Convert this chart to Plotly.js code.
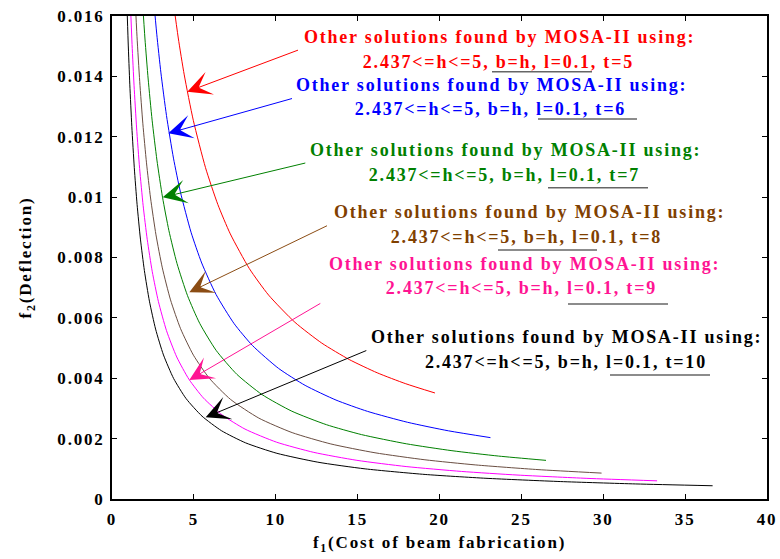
<!DOCTYPE html>
<html>
<head>
<meta charset="utf-8">
<script src="https://cdn.plot.ly/plotly-3.0.1.min.js"></script>
<style>
  html, body { margin: 0; padding: 0; background: #fff; }
  #chart { width: 780px; height: 559px; }
  #chart svg text { letter-spacing: 1.8px; }
</style>
</head>
<body>
<div id="chart"></div>
<script>
// ---- data ----
const seriesNames = ["t=5", "t=6", "t=7", "t=8", "t=9", "t=10"];

const f1_t5 = [3.719,4.047,4.412,4.965,5.710,6.463,7.225,8.385,9.565,11.170,12.809,14.484,16.194,17.940,19.721];
const f2_t5 = [0.016567,0.015271,0.014049,0.012544,0.010976,0.009756,0.008781,0.007635,0.006754,0.005854,0.005165,0.004621,0.004181,0.003818,0.003512];

const f1_t6 = [2.524,2.734,2.988,3.327,3.753,4.181,4.827,5.478,6.354,7.461,8.582,10.175,11.795,13.679,15.599,18.048,20.553,23.112];
const f2_t6 = [0.016661,0.015398,0.014115,0.012704,0.011292,0.010163,0.008837,0.007818,0.006775,0.005807,0.005082,0.004325,0.003764,0.003278,0.002904,0.002541,0.002258,0.002033];

const f1_t7 = [1.845,2.014,2.208,2.450,2.743,3.084,3.476,3.968,4.611,5.357,6.360,7.626,9.163,10.981,13.093,15.240,17.973,20.761,23.605,26.504];
const f2_t7 = [0.016623,0.015238,0.013913,0.012549,0.011228,0.010000,0.008889,0.007805,0.006737,0.005818,0.004923,0.004129,0.003459,0.002909,0.002462,0.002133,0.001829,0.001600,0.001422,0.001280];

const f1_t8 = [1.407,1.528,1.693,1.885,2.106,2.354,2.686,3.074,3.574,4.188,4.974,5.933,7.242,8.966,11.002,13.363,16.061,19.111,22.217,26.017,29.896];
const f2_t8 = [0.016618,0.015313,0.013831,0.012428,0.011136,0.009971,0.008750,0.007656,0.006596,0.005641,0.004764,0.004007,0.003298,0.002680,0.002199,0.001824,0.001531,0.001299,0.001128,0.000974,0.000858];

const f1_t9 = [1.109,1.225,1.348,1.502,1.687,1.903,2.150,2.460,2.832,3.329,3.953,4.704,5.584,6.722,8.123,10.051,12.325,14.957,17.961,21.350,24.795,29.001,33.288];
const f2_t9 = [0.016637,0.015057,0.013688,0.012291,0.010950,0.009714,0.008604,0.007528,0.006546,0.005576,0.004705,0.003962,0.003346,0.002788,0.002316,0.001882,0.001544,0.001281,0.001075,0.000913,0.000792,0.000684,0.000602];

const f1_t10 = [0.897,0.986,1.088,1.211,1.361,1.532,1.737,1.977,2.285,2.662,3.144,3.764,4.525,5.498,6.684,8.158,10.068,12.568,15.458,19.121,22.838,27.373,31.986,36.679];
const f2_t10 = [0.016630,0.015139,0.013720,0.012333,0.010976,0.009756,0.008609,0.007570,0.006553,0.005629,0.004772,0.003991,0.003326,0.002744,0.002263,0.001860,0.001514,0.001220,0.000998,0.000813,0.000686,0.000578,0.000499,0.000439];

const xTickVals = [0, 5, 10, 15, 20, 25, 30, 35, 40];
const yTickVals = [0, 0.002, 0.004, 0.006, 0.008, 0.01, 0.012, 0.014, 0.016];
const yTickText = ["0", "0.002", "0.004", "0.006", "0.008", "0.01", "0.012", "0.014", "0.016"];

const noteLine1 = "Other solutions found by MOSA-II using:";
const noteLine2 = ["2.437<=h<=5, b=h, l=0.1, t=5", "2.437<=h<=5, b=h, l=0.1, t=6", "2.437<=h<=5, b=h, l=0.1, t=7",
                   "2.437<=h<=5, b=h, l=0.1, t=8", "2.437<=h<=5, b=h, l=0.1, t=9", "2.437<=h<=5, b=h, l=0.1, t=10"];

// ---- styling / layout ----
const FONT = '"Liberation Serif", "Times New Roman", serif';
const curveColors = ["#ff0000", "#0000ff", "#008000", "#6a4e42", "#ff00ff", "#000000"];
const textColors  = ["#ff0000", "#0000ff", "#008000", "#804000", "#ff1493", "#000000"];
const arrowColors = ["#ff0000", "#0000ff", "#008000", "#8b4c14", "#ff1493", "#000000"];

const xs = [f1_t5, f1_t6, f1_t7, f1_t8, f1_t9, f1_t10];
const ys = [f2_t5, f2_t6, f2_t7, f2_t8, f2_t9, f2_t10];

const traces = xs.map((x, i) => ({
  x: x, y: ys[i], type: "scatter", mode: "lines", name: seriesNames[i],
  line: { color: curveColors[i], width: 1, shape: "spline", smoothing: 0.6 },
  hoverinfo: "skip"
}));

// plot-area geometry (pixels) used to place annotations
const L = 112, R = 767, T = 16, B = 499;
const px2x = p => (p - L) / (R - L) * 40;
const py2y = p => (B - p) / (B - T) * 0.016;

// text positions [line1 cx, line1 cy, line2 cx, line2 cy]
const textPos = [
  [499, 37, 498, 62],
  [491, 85, 490, 108.5],
  [505, 150, 504, 175],
  [529.5, 212, 526.5, 237],
  [524.5, 264, 521.5, 288],
  [566.5, 337, 566, 362]
];
// arrows [tipX, tipY, tailX, tailY]
const arrowPos = [
  [187.3, 91.7, 301, 49],
  [168.3, 133.3, 295, 97.7],
  [162.7, 197.3, 308.3, 162.3],
  [189.3, 292.3, 330, 224.3],
  [189.3, 380, 323.3, 301.7],
  [205.7, 417.3, 369.3, 349.3]
];
// underline segments [x0, x1, y]
const underPos = [
  [492, 592, 71.7],
  [538, 637, 119],
  [548, 648, 187.7],
  [498, 597, 250],
  [568, 668, 304],
  [610, 710, 375]
];

const annotations = [];
textPos.forEach((p, i) => {
  const f = { family: FONT, size: 18, color: textColors[i], weight: "bold" };
  annotations.push({ x: px2x(p[0]), y: py2y(p[1]), xref: "x", yref: "y", text: noteLine1,
    showarrow: false, xanchor: "center", yanchor: "middle", font: f });
  annotations.push({ x: px2x(p[2]), y: py2y(p[3]), xref: "x", yref: "y", text: noteLine2[i],
    showarrow: false, xanchor: "center", yanchor: "middle", font: f });
});
arrowPos.forEach((a, i) => {
  annotations.push({ x: px2x(a[0]), y: py2y(a[1]), xref: "x", yref: "y",
    ax: px2x(a[2]), ay: py2y(a[3]), axref: "x", ayref: "y", text: " ",
    showarrow: true, arrowhead: 3, arrowsize: 4, arrowwidth: 1, arrowcolor: arrowColors[i], standoff: 0,
    startstandoff: 0 });
});

const shapes = underPos.map(u => ({
  type: "line", xref: "x", yref: "y", x0: px2x(u[0]), x1: px2x(u[1]), y0: py2y(u[2]), y1: py2y(u[2]),
  line: { color: "#666666", width: 1.5 }
}));

const axisFont = { family: FONT, size: 17, color: "#000", weight: "bold" };
const layout = {
  width: 780, height: 559,
  margin: { l: L, r: 780 - R, t: T, b: 559 - B, pad: 0 },
  paper_bgcolor: "#fff", plot_bgcolor: "#fff",
  showlegend: false,
  font: { family: FONT },
  xaxis: {
    range: [0, 40], tickvals: xTickVals, ticks: "inside", ticklen: 5, tickwidth: 1, tickcolor: "#000",
    showline: true, linecolor: "#000", linewidth: 2, mirror: "ticks", showgrid: false, zeroline: false,
    tickfont: axisFont, ticklabelstandoff: 4,
    title: { text: "f<sub>1</sub>(Cost of beam fabrication)", font: axisFont, standoff: 8 }
  },
  yaxis: {
    range: [0, 0.016], tickvals: yTickVals, ticktext: yTickText, ticks: "inside", ticklen: 5, tickwidth: 1, tickcolor: "#000",
    showline: true, linecolor: "#000", linewidth: 2, mirror: "ticks", showgrid: false, zeroline: false,
    tickfont: axisFont, ticklabelstandoff: 2,
    title: { text: "f<sub>2</sub>(Deflection)", font: axisFont, standoff: 30 }
  },
  annotations: annotations,
  shapes: shapes
};

Plotly.newPlot("chart", traces, layout, { staticPlot: true, displayModeBar: false });
</script>
</body>
</html>
